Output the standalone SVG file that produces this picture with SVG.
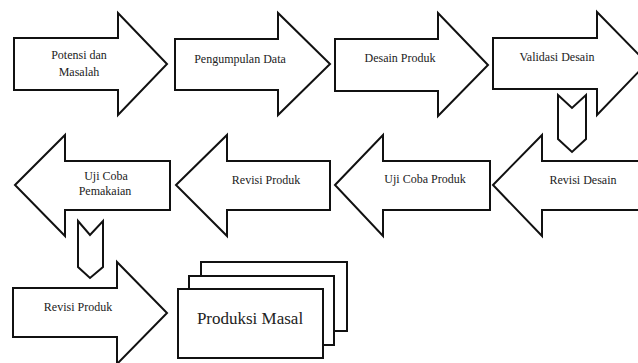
<svg xmlns="http://www.w3.org/2000/svg" width="638" height="363" viewBox="0 0 638 363">
<style>
.s{fill:#fff;stroke:#111;stroke-width:2;stroke-linejoin:miter}
.t{font-size:12px;fill:#222;text-anchor:middle}
.b{font-size:17px;fill:#222;text-anchor:middle}
</style>
<rect width="638" height="363" fill="#fff"/>
<g font-family="Liberation Serif, DejaVu Serif, serif">
<g id="n1"><polygon class="s" points="14,38 118,38 118,13 167,64 118,115 118,90 14,90"/><text class="t" x="79" y="59">Potensi dan</text><text class="t" x="79" y="76">Masalah</text></g>
<g id="n2"><polygon class="s" points="175,39 278,39 278,13 330,64 278,115 278,90 175,90"/><text class="t" x="240" y="63">Pengumpulan Data</text></g>
<g id="n3"><polygon class="s" points="335,39 438,39 438,13 488,65 438,116 438,91 335,91"/><text class="t" x="400" y="62">Desain Produk</text></g>
<g id="n4"><polygon class="s" points="493,38 597,38 597,12 647,63 597,115 597,89 493,89"/><text class="t" x="557" y="61">Validasi Desain</text></g>
<g id="n5"><polygon class="s" points="493,185 542,135 542,161 648,161 648,210 542,210 542,236"/><text class="t" x="583" y="184">Revisi Desain</text></g>
<g id="n6"><polygon class="s" points="335,185 383,135 383,161 490,161 490,210 383,210 383,236"/><text class="t" x="425" y="183">Uji Coba Produk</text></g>
<g id="n7"><polygon class="s" points="176,185 227,135 227,161 330,161 330,210 227,210 227,236"/><text class="t" x="266" y="184">Revisi Produk</text></g>
<g id="n8"><polygon class="s" points="15,185 65,135 65,161 170,161 170,210 65,210 65,236"/><text class="t" x="106" y="180">Uji Coba</text><text class="t" x="105" y="195">Pemakaian</text></g>
<g id="n9"><polygon class="s" points="13,288 117,288 117,262 167,313 117,364 117,337 13,337"/><text class="t" x="78" y="311">Revisi Produk</text></g>
<g id="n10"><rect class="s" x="201" y="262" width="146" height="69"/><rect class="s" x="189" y="276" width="145" height="69"/><rect class="s" x="178" y="289" width="145" height="69"/><text class="b" x="250" y="324">Produksi Masal</text></g>
</g>
<g id="connectors">
<polygon class="s" points="558,95 572,108 586,95 586,139 572,152 558,139"/>
<polygon class="s" points="78,221 90,235 103,221 103,267 90,278 78,267"/>
</g>
</svg>
